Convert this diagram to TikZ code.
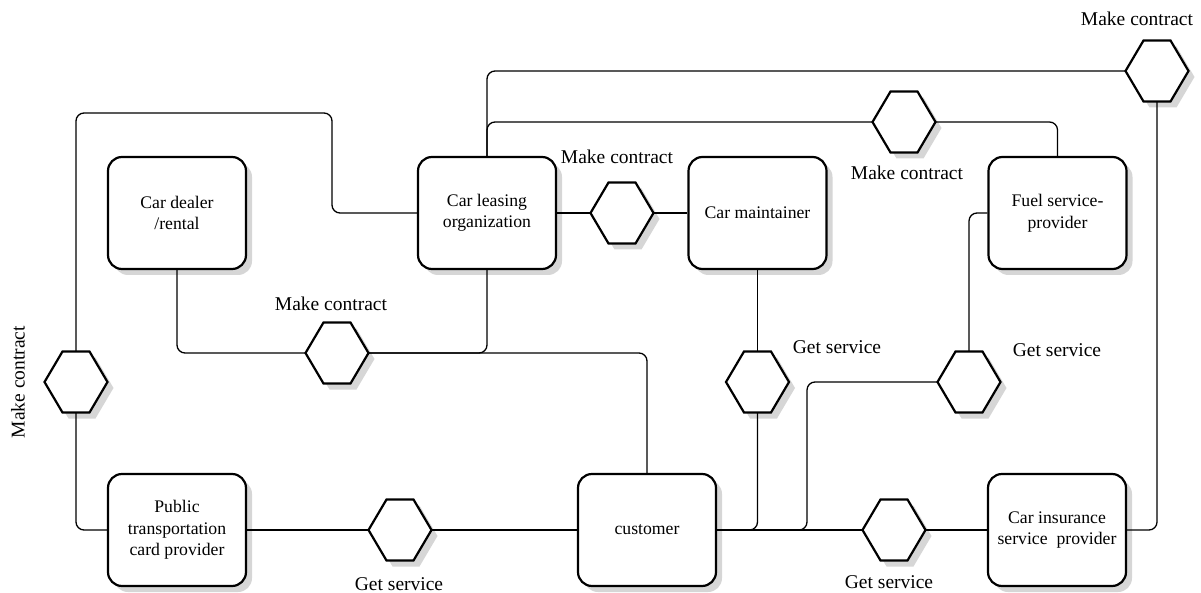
\documentclass[tikz,border=0pt]{standalone}
\usepackage{fontspec}
\setmainfont{Liberation Serif}
\usetikzlibrary{shadows}

\begin{document}
\begin{tikzpicture}[x=1pt,y=-1pt,
  actor/.style={draw, line width=2.2pt, rounded corners=14pt, fill=white,
    minimum width=138pt, minimum height=112pt, align=center, inner sep=2pt,
    font=\fontsize{17.7}{21.5}\selectfont,
    drop shadow={shadow xshift=6pt, shadow yshift=-6pt, fill=black!16, opacity=1}},
  hexslot/.style={minimum width=63pt, minimum height=61pt, inner sep=0pt, outer sep=0pt},
  hexline/.style={line width=2.2pt, line join=miter, fill=white},
  hexshade/.style={fill=black!16, transform canvas={shift={(6pt,-6pt)}}},
  link/.style={line width=1.3pt, rounded corners=8pt},
  tag/.style={font=\fontsize{19.5}{22}\selectfont, inner sep=0pt}]

\useasboundingbox (0,0) rectangle (1201,593);

% participants
\node[actor] (dealer) at (177,213)   {Car dealer\\/rental};
\node[actor] (leas)   at (487,213)   {Car leasing\\organization};
\node[actor] (maint)  at (757.5,213) {Car maintainer};
\node[actor] (fuel)   at (1057.5,213){Fuel service-\\provider};
\node[actor] (pub)    at (177,530)   {Public\\transportation\\card provider};
\node[actor] (cust)   at (647,530)   {customer};
\node[actor] (insur)  at (1057,530)  {Car insurance\\service\ \ provider};

% interaction slots (hexagons)
\node[hexslot] (hL)  at (76,382)    {};
\node[hexslot] (hDC) at (337,353)   {};
\node[hexslot] (hGS) at (400,530)   {};
\node[hexslot] (hLM) at (622,213)   {};
\node[hexslot] (hTM) at (904,122)   {};
\node[hexslot] (hTR) at (1157,71)   {};
\node[hexslot] (hMG) at (757.5,382) {};
\node[hexslot] (hFG) at (969,382)   {};
\node[hexslot] (hBR) at (894,530)   {};

% hexagon shadows
\foreach \h in {hL,hDC,hGS,hLM,hTM,hTR,hMG,hFG,hBR}{
  \fill[hexshade] (\h.west) -- ([xshift=18pt]\h.north west) -- ([xshift=-18pt]\h.north east)
    -- (\h.east) -- ([xshift=-18pt]\h.south east) -- ([xshift=18pt]\h.south west) -- cycle;
}

% bend points
\coordinate (bendA) at (332,113);
\coordinate (bendB) at (807,382);

% connectors
\draw[link] (leas.west) -| (bendA) -| (hL.north);
\draw[link] (hL.south) |- (pub.west);
\draw[link] (dealer.south) |- (hDC.west);
\draw[link] (leas.south) |- (hDC.east);
\draw[link] (hDC.east) -| (cust.north);
\draw[link] (leas.east) -- (hLM.west);
\draw[link] (hLM.east) -- (maint.west);
\draw[link] (leas.north) |- (hTR.west);
\draw[link] (leas.north) |- (hTM.west);
\draw[link] (hTM.east) -| (fuel.north);
\draw[link] (hTR.south) |- (insur.east);
\draw[link] (fuel.west) -| (hFG.north);
\draw[link] (hFG.west) -- (bendB) |- (cust.east);
\draw[link] (maint.south) -- (hMG.north);
\draw[link] (hMG.south) |- (cust.east);
\draw[link] (cust.east) -- (hBR.west);
\draw[link] (hBR.east) -- (insur.west);
\draw[link] (pub.east) -- (hGS.west);
\draw[link] (hGS.east) -- (cust.west);

% hexagon outlines
\foreach \h in {hL,hDC,hGS,hLM,hTM,hTR,hMG,hFG,hBR}{
  \draw[hexline] (\h.west) -- ([xshift=18pt]\h.north west) -- ([xshift=-18pt]\h.north east)
    -- (\h.east) -- ([xshift=-18pt]\h.south east) -- ([xshift=18pt]\h.south west) -- cycle;
}

% labels
\node[tag] (t1) at (1137,19)  {Make contract};
\node[tag] (t2) at (617,157)  {Make contract};
\node[tag] (t3) at (907,173)  {Make contract};
\node[tag] (t4) at (331,304)  {Make contract};
\node[tag, rotate=90] (t5) at (18,382) {Make contract};
\node[tag] (t6) at (837,347)  {Get service};
\node[tag] (t7) at (1057,350) {Get service};
\node[tag] (t8) at (399,584)  {Get service};
\node[tag] (t9) at (889,582)  {Get service};
\end{tikzpicture}
\end{document}
